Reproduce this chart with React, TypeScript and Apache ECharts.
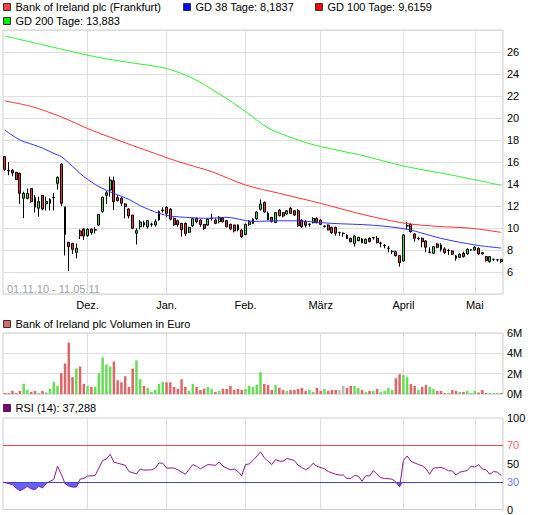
import { useEffect, useRef } from 'react';
import * as echarts from 'echarts';

const FONT = '"Liberation Sans", Arial, Helvetica, sans-serif';

// trading days per month (Nov 2010 - May 2011)
const novDays = [1, 2, 3, 4, 5, 8, 9, 10, 11, 12, 15, 16, 17, 18, 19, 22, 23, 24, 25, 26, 29, 30];
const decDays = [1, 2, 3, 6, 7, 8, 9, 10, 13, 14, 15, 16, 17, 20, 21, 22, 23, 27, 28, 29, 30];
const janDays = [3, 4, 5, 6, 7, 10, 11, 12, 13, 14, 17, 18, 19, 20, 21, 24, 25, 26, 27, 28, 31];
const febDays = [1, 2, 3, 4, 7, 8, 9, 10, 11, 14, 15, 16, 17, 18, 21, 22, 23, 24, 25, 28];
const marDays = [1, 2, 3, 4, 7, 8, 9, 10, 11, 14, 15, 16, 17, 18, 21, 22, 23, 24, 25, 28, 29, 30];
const aprDays = [1, 4, 5, 6, 7, 8, 11, 12, 13, 14, 15, 18, 19, 20, 21, 26, 27, 28, 29];
const mayDays = [2, 3, 4, 5, 6, 9, 10, 11];
const monthDefs: [number[], string, string, string][] = [
  [novDays, '11', '10', ''],
  [decDays, '12', '10', 'Dez.'],
  [janDays, '01', '11', 'Jan.'],
  [febDays, '02', '11', 'Feb.'],
  [marDays, '03', '11', 'März'],
  [aprDays, '04', '11', 'April'],
  [mayDays, '05', '11', 'Mai'],
];

// [open, close, low, high]
const ohlc: number[][] = [
  [16.5, 15.33, 15.2, 16.5], [15.22, 15.2, 14.8, 16.0], [15.25, 15.0, 14.7, 15.35], [15.06, 14.4, 14.36, 15.1],
  [14.97, 13.15, 12.2, 15.03], [12.7, 13.15, 10.9, 13.3], [12.7, 13.15, 12.6, 13.6], [13.6, 12.4, 12.3, 13.6],
  [12.76, 11.9, 11.4, 13.0], [11.8, 12.4, 11.03, 12.85], [12.97, 11.73, 11.6, 12.97], [12.2, 12.4, 11.6, 12.85],
  [12.25, 12.6, 11.6, 12.7], [12.75, 12.78, 11.6, 13.2], [14.06, 14.6, 13.5, 14.7], [15.8, 12.25, 12.0, 15.88],
  [11.9, 9.4, 7.5, 11.95], [8.7, 8.3, 6.1, 8.75], [8.6, 8.06, 7.64, 8.66], [7.79, 8.15, 7.24, 8.6],
  [9.73, 9.3, 9.0, 9.88], [9.9, 9.27, 8.9, 9.97],
  // Dez
  [9.3, 9.88, 9.2, 9.97], [9.9, 9.58, 9.4, 9.94], [9.8, 9.84, 9.5, 10.1], [10.27, 11.24, 10.2, 11.27],
  [11.5, 12.8, 11.4, 12.85], [12.97, 13.2, 12.2, 13.4], [13.45, 14.36, 12.85, 14.67], [14.3, 12.4, 11.64, 14.67],
  [12.76, 12.5, 12.4, 13.0], [12.7, 12.25, 12.0, 12.85], [12.18, 11.94, 10.88, 12.24], [11.73, 11.1, 10.88, 11.8],
  [11.18, 9.97, 9.91, 11.18], [9.52, 9.76, 8.5, 9.97], [10.12, 10.55, 9.88, 10.73], [10.49, 10.27, 10.06, 10.67],
  [10.12, 10.67, 9.94, 10.73], [10.33, 10.35, 10.12, 10.49], [10.27, 10.58, 10.12, 10.79], [10.73, 11.52, 10.67, 11.58],
  [11.58, 11.64, 11.39, 11.88],
  // Jan
  [11.88, 11.33, 10.97, 12.0], [11.7, 10.8, 10.7, 11.82], [10.88, 10.3, 10.2, 10.95], [10.67, 10.3, 10.12, 10.75],
  [10.42, 9.85, 9.21, 10.45], [10.42, 9.5, 9.27, 10.49], [9.61, 10.03, 9.55, 10.12], [10.2, 10.85, 10.1, 10.9],
  [10.88, 10.58, 10.42, 10.97], [10.73, 10.33, 10.12, 10.79], [10.33, 9.97, 9.82, 10.36], [10.27, 10.8, 10.2, 10.88],
  [10.88, 10.9, 10.67, 11.3], [10.73, 10.42, 10.35, 10.88], [10.58, 10.97, 10.42, 11.09], [10.94, 10.58, 10.5, 11.0],
  [10.67, 10.12, 10.06, 10.73], [10.33, 9.91, 9.85, 10.4], [10.27, 9.73, 9.6, 10.3], [10.27, 9.82, 9.7, 10.33],
  [9.82, 9.21, 9.1, 9.88],
  // Feb
  [9.4, 10.33, 9.36, 10.4], [10.33, 10.6, 10.2, 10.7], [10.42, 10.79, 10.36, 10.88], [10.85, 11.45, 10.75, 11.55],
  [11.7, 12.18, 11.58, 12.6], [12.33, 11.45, 11.4, 12.4], [11.33, 10.75, 10.7, 11.5], [10.97, 10.6, 10.5, 11.0],
  [10.5, 11.4, 10.45, 11.45], [11.63, 11.12, 11.05, 11.7], [11.39, 11.09, 10.97, 11.45], [11.27, 11.57, 11.18, 11.64],
  [11.79, 11.33, 11.3, 11.9], [11.57, 11.18, 11.1, 11.64], [11.57, 10.21, 10.1, 11.7], [10.72, 10.12, 10.0, 10.78],
  [10.6, 10.25, 10.06, 10.7], [10.33, 10.35, 10.12, 10.42], [10.48, 10.87, 10.42, 10.97], [10.87, 10.48, 10.42, 10.97],
  // März
  [10.72, 10.33, 10.27, 10.79], [10.15, 10.18, 10.03, 10.25], [10.27, 9.82, 9.78, 10.33], [10.06, 9.57, 9.45, 10.12],
  [10.06, 9.52, 9.3, 10.12], [9.6, 9.6, 9.3, 9.64], [9.52, 9.52, 9.2, 9.58], [9.36, 9.06, 9.0, 9.42],
  [9.06, 8.75, 8.7, 9.12], [8.6, 9.27, 8.3, 9.33], [8.85, 9.15, 8.8, 9.2], [9.0, 8.67, 8.6, 9.1],
  [8.6, 8.97, 8.55, 9.05], [9.06, 8.76, 8.7, 9.15], [9.1, 9.12, 8.95, 9.2], [9.06, 8.67, 8.6, 9.27],
  [8.61, 8.63, 8.25, 8.76], [8.4, 8.42, 8.15, 8.55], [8.15, 8.17, 7.79, 8.37], [7.85, 7.87, 7.64, 8.0],
  [7.85, 7.49, 7.4, 7.94], [7.49, 6.85, 6.49, 7.55],
  // April
  [7.0, 9.37, 6.95, 9.43], [10.18, 10.2, 9.88, 10.52], [10.33, 9.67, 9.58, 10.43], [9.46, 9.06, 8.76, 9.52],
  [9.03, 9.05, 8.9, 9.2], [9.06, 8.76, 8.25, 9.15], [8.82, 8.25, 7.79, 8.9], [7.79, 7.81, 7.7, 8.25],
  [7.7, 8.31, 7.64, 8.37], [8.55, 8.25, 8.15, 8.61], [8.46, 8.06, 7.85, 8.61], [8.1, 7.76, 7.64, 8.25],
  [7.94, 7.96, 7.55, 8.1], [7.91, 7.61, 7.55, 7.97], [7.46, 7.25, 7.03, 7.55], [7.34, 7.61, 7.25, 7.7],
  [7.7, 7.4, 7.31, 7.85], [7.64, 8.06, 7.58, 8.15], [8.0, 8.02, 7.9, 8.1],
  // Mai
  [8.0, 8.25, 7.94, 8.37], [8.15, 7.64, 7.55, 8.25], [7.76, 7.64, 7.58, 7.79], [7.4, 7.03, 6.94, 7.46],
  [6.94, 7.4, 6.85, 7.46], [7.15, 7.16, 7.0, 7.2], [7.1, 7.11, 6.95, 7.15], [7.15, 6.95, 6.8, 7.2],
];

// moving averages read at selected trading-day indices: [dayIndex, value]
const gd38: number[][] = [
  [0, 18.9], [4, 18.0], [9, 17.4], [14, 16.64], [15, 16.5], [18, 15.6], [21, 14.67], [25, 13.76], [29, 13.15],
  [33, 12.6], [36, 12.03], [41, 11.33], [44, 11.09], [49, 10.95], [54, 10.88], [59, 10.97], [66, 10.6],
  [74, 10.66], [79, 10.63], [87, 10.42], [98, 10.25], [107, 9.88], [116, 9.06], [125, 8.46], [132, 8.18],
];
const gd100: number[][] = [
  [0, 21.55], [7, 21.05], [15, 20.1], [23, 18.9], [34, 17.5], [46, 16.05], [55, 15.12], [64, 13.91],
  [73, 13.15], [84, 12.24], [95, 11.25], [106, 10.45], [115, 10.15], [124, 9.98], [132, 9.6],
];
const gd200: number[][] = [
  [0, 27.45], [12, 26.5], [25, 25.5], [34, 25.0], [43, 24.5], [50, 23.6], [57, 22.2], [64, 20.6],
  [70, 19.1], [78, 18.0], [84, 17.4], [95, 16.6], [106, 15.64], [119, 14.8], [132, 13.88],
];

// volume in millions of euro
const volume = [
  0.1, 0.1, 0.3, 0.1, 0.3, 1.0, 0.4, 0.2, 0.3, 0.1,
  0.3, 0.15, 0.5, 1.2, 0.8, 2.05, 3.0, 5.05, 1.65, 2.5,
  2.7, 1.0, 0.8, 0.7, 0.7, 2.05, 3.6, 2.9, 2.7, 3.2,
  1.35, 1.15, 1.75, 0.7, 2.5, 3.3, 1.45, 0.8, 0.6, 0.2,
  0.4, 1.0, 1.2, 1.15, 1.15, 0.7, 0.5, 1.45, 0.7, 0.3,
  1.0, 0.7, 0.4, 0.5, 0.7, 0.5, 0.2, 0.3, 0.5, 0.5,
  0.8, 0.4, 0.5, 0.4, 0.5, 0.8, 0.7, 0.9, 2.15, 1.0,
  0.9, 0.4, 0.9, 0.6, 0.4, 0.3, 0.4, 0.4, 0.5, 0.6,
  0.3, 0.4, 0.2, 0.6, 0.3, 0.5, 0.3, 0.4, 0.4, 0.4,
  0.8, 0.6, 0.8, 0.8, 0.6, 0.4, 0.2, 0.3, 0.3, 0.5,
  0.2, 0.3, 0.6, 0.4, 1.55, 1.95, 1.85, 1.65, 1.0, 0.8,
  0.4, 0.7, 0.9, 0.7, 0.5, 0.3, 0.3, 0.1, 0.1, 0.4,
  0.3, 0.2, 0.2, 0.3, 0.1, 0.3, 0.15, 0.4, 0.1, 0.1,
  0.1, 0.1, 0.1,
];

// RSI (14) read at trading-day indices: [dayIndex, value]
const rsi: number[][] = [
  [0, 29.4], [1, 28.3], [2, 27.2], [3, 23.4], [4, 20.4], [5, 22.6], [6, 25.3], [7, 22.6], [8, 21.5], [9, 25.7],
  [10, 23.4], [11, 28.3], [12, 30.9], [13, 32.8], [14, 47.2], [15, 38.5], [16, 28.3], [17, 25.7], [18, 24.5],
  [19, 24.5], [20, 33.2], [21, 34.0], [22, 36.6], [24, 37.0], [25, 45.3], [26, 53.6], [27, 55.1], [28, 60.4],
  [29, 51.7], [30, 50.6], [32, 48.3], [33, 41.5], [35, 38.9], [36, 44.2], [37, 43.0], [39, 43.4], [40, 45.3],
  [41, 50.9], [42, 50.6], [43, 45.3], [45, 45.3], [46, 43.4], [48, 38.5], [50, 49.1], [51, 47.2], [52, 44.5],
  [54, 49.1], [56, 48.3], [57, 52.1], [58, 47.2], [60, 43.4], [61, 44.2], [62, 41.5], [63, 37.0], [64, 49.1],
  [65, 49.8], [66, 53.6], [68, 63.0], [69, 56.6], [70, 52.8], [71, 49.1], [72, 54.7], [73, 52.8], [74, 52.8],
  [75, 55.8], [77, 53.6], [78, 48.3], [79, 46.0], [80, 43.4], [81, 46.0], [82, 50.6], [83, 47.2], [85, 44.5],
  [86, 41.5], [88, 38.5], [89, 37.7], [90, 37.7], [91, 34.0], [92, 34.0], [93, 37.0], [94, 36.6], [95, 30.9],
  [96, 37.0], [97, 36.6], [98, 42.6], [99, 38.5], [100, 34.7], [101, 34.0], [103, 33.2], [104, 30.2], [105, 24.5],
  [106, 53.6], [107, 58.5], [108, 52.8], [110, 49.1], [111, 47.9], [112, 44.5], [113, 38.5], [114, 45.3],
  [116, 46.0], [117, 44.5], [118, 42.3], [119, 42.3], [120, 37.7], [121, 40.8], [123, 42.6], [124, 47.2],
  [125, 46.4], [126, 49.1], [127, 44.2], [128, 43.4], [129, 38.5], [130, 41.5], [131, 40.8], [132, 37.3],
];

const priceTicks = [6, 8, 10, 12, 14, 16, 18, 20, 22, 24, 26];
const rsiTicks = [0, 30, 50, 70, 100];
const rsiUpper = 70;
const rsiLower = 30;

export default function App() {
  const ref = useRef<HTMLDivElement>(null);

  useEffect(() => {
    if (!ref.current) return;
    const chart = echarts.init(ref.current, undefined, { renderer: 'svg' });

    const categories: string[] = [];
    const monthLabelByCat = new Map<string, string>();
    monthDefs.forEach(([days, mm, yy, label]) => {
      days.forEach((d, i) => {
        const c = `${String(d).padStart(2, '0')}.${mm}.${yy}`;
        categories.push(c);
        if (i === 0 && label) monthLabelByCat.set(c, label);
      });
    });
    const isMonthStart = (idx: number) => monthLabelByCat.has(categories[idx]);

    const volData = volume.map((v, i) => {
      const [o, c] = ohlc[i];
      const color = c > o ? '#66dd55' : c < o ? '#dd6666' : '#bbbbbb';
      return { value: v, itemStyle: { color } };
    });
    const rsiFill = rsi.map(([i, v]) => [i, Math.min(v, rsiLower)]);

    const gridLine = { color: '#dddddd', width: 1 };
    const baseX = (gridIndex: number, showLabel: boolean) => ({
      type: 'category',
      gridIndex,
      data: categories,
      boundaryGap: true,
      axisLine: { show: false },
      axisTick: { show: false },
      axisLabel: {
        show: showLabel,
        interval: (idx: number) => isMonthStart(idx),
        formatter: (v: string) => monthLabelByCat.get(v) || '',
        color: '#000',
        fontSize: 11,
        fontFamily: FONT,
        margin: 5,
      },
      splitLine: {
        show: true,
        interval: (idx: number) => isMonthStart(idx),
        alignWithLabel: true,
        lineStyle: gridLine,
      },
    });

    const gridBox = { show: true, borderColor: '#cccccc', borderWidth: 1, backgroundColor: '#ffffff' };
    const labelBase = { color: '#000', fontSize: 11, fontFamily: FONT, margin: 4 };

    const legend = (x: number, y: number, color: string, text: string) => [
      {
        type: 'rect',
        shape: { x, y: y - 3.5, width: 7, height: 7 },
        style: { fill: color, stroke: '#333333', lineWidth: 1 },
        silent: true,
      },
      {
        type: 'text',
        x: x + 12,
        y,
        style: { text, font: `11px ${FONT}`, fill: '#000', textVerticalAlign: 'middle', textAlign: 'left' },
        silent: true,
      },
    ];

    const option: any = {
      animation: false,
      backgroundColor: '#ffffff',
      grid: [
        { left: 3, top: 30, width: 500, height: 264, ...gridBox },
        { left: 3, top: 333, width: 500, height: 61, ...gridBox },
        { left: 3, top: 418, width: 500, height: 92, ...gridBox },
      ],
      xAxis: [baseX(0, true), baseX(1, false), baseX(2, false)],
      yAxis: [
        {
          type: 'value', gridIndex: 0, position: 'right', min: 4, max: 28, interval: 2,
          axisLine: { show: false }, axisTick: { show: false },
          axisLabel: { ...labelBase, formatter: (v: number) => (priceTicks.includes(v) ? String(v) : '') },
          splitLine: { show: true, lineStyle: gridLine },
        },
        {
          type: 'value', gridIndex: 1, position: 'right', min: 0, max: 6, interval: 2,
          axisLine: { show: false }, axisTick: { show: false },
          axisLabel: { ...labelBase, formatter: (v: number) => `${v}M` },
          splitLine: { show: true, lineStyle: gridLine },
        },
        {
          type: 'value', gridIndex: 2, position: 'right', min: 0, max: 100, interval: 10,
          axisLine: { show: false }, axisTick: { show: false },
          axisLabel: {
            ...labelBase,
            formatter: (v: number) => (v === 70 ? '{r|70}' : v === 30 ? '{b|30}' : rsiTicks.includes(v) ? String(v) : ''),
            rich: {
              r: { color: '#ff6666', fontSize: 11, fontFamily: FONT },
              b: { color: '#7777ff', fontSize: 11, fontFamily: FONT },
            },
          },
          splitLine: { show: false },
        },
      ],
      series: [
        {
          type: 'candlestick',
          xAxisIndex: 0, yAxisIndex: 0,
          data: ohlc,
          barWidth: 2.4,
          itemStyle: {
            color: '#44dd44', color0: '#ee3333',
            borderColor: '#000000', borderColor0: '#000000', borderColorDoji: '#000000',
            borderWidth: 1,
          },
          z: 3,
        },
        { type: 'line', xAxisIndex: 0, yAxisIndex: 0, data: gd38, smooth: 0.3, symbol: 'none', lineStyle: { color: '#3333ff', width: 1 }, z: 4 },
        { type: 'line', xAxisIndex: 0, yAxisIndex: 0, data: gd100, smooth: 0.3, symbol: 'none', lineStyle: { color: '#ff3333', width: 1 }, z: 4 },
        { type: 'line', xAxisIndex: 0, yAxisIndex: 0, data: gd200, smooth: 0.3, symbol: 'none', lineStyle: { color: '#33ee33', width: 1 }, z: 4 },
        {
          type: 'bar', xAxisIndex: 1, yAxisIndex: 1, data: volData, barWidth: 2.5,
        },
        {
          type: 'line', xAxisIndex: 2, yAxisIndex: 2, data: rsiFill, symbol: 'none',
          lineStyle: { width: 0, opacity: 0 },
          areaStyle: { color: '#6262ff', opacity: 1, origin: rsiLower },
          z: 2,
        },
        {
          type: 'line', xAxisIndex: 2, yAxisIndex: 2, data: rsi, symbol: 'none',
          color: '#8b1a8b',
          lineStyle: { color: '#8b1a8b', width: 1 },
          z: 4,
          markLine: {
            silent: true,
            symbol: ['none', 'none'],
            label: { show: false },
            data: [
              { name: 'upper', yAxis: rsiUpper, lineStyle: { color: '#ff4444', width: 1.2, type: 'solid', opacity: 1 } },
              { name: 'lower', yAxis: rsiLower, lineStyle: { color: '#4444dd', width: 1.2, type: 'solid', opacity: 1 } },
            ],
          },
        },
      ],
      graphic: [
        ...legend(3.5, 7, '#ee4444', 'Bank of Ireland plc (Frankfurt)'),
        ...legend(183.5, 7, '#0000ff', 'GD 38 Tage: 8,1837'),
        ...legend(315.5, 7, '#ff0000', 'GD 100 Tage: 9,6159'),
        ...legend(3.5, 21, '#00ee00', 'GD 200 Tage: 13,883'),
        ...legend(3.5, 324, '#dd6666', 'Bank of Ireland plc Volumen in Euro'),
        ...legend(3.5, 408, '#800080', 'RSI (14): 37,288'),
        {
          type: 'text', x: 7, y: 289,
          style: { text: '01.11.10 - 11.05.11', font: `11px ${FONT}`, fill: '#9aa3b5', textVerticalAlign: 'middle' },
          silent: true,
        },
      ],
    };

    chart.setOption(option);
    return () => chart.dispose();
  }, []);

  return (
    <div
      ref={ref}
      style={{ position: 'absolute', left: 0, top: 0, width: 545, height: 515, background: '#ffffff' }}
    />
  );
}
